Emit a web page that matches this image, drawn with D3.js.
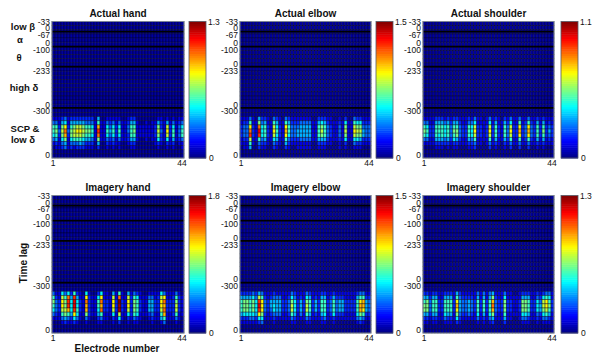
<!DOCTYPE html>
<html>
<head>
<meta charset="utf-8">
<script src="https://d3js.org/d3.v7.min.js"></script>
<style>
  html,body{margin:0;padding:0;background:#fff;}
  svg{display:block;}
  text{font-family:"Liberation Sans",Arial,sans-serif;fill:#111;}
  .domain{display:none;}
</style>
</head>
<body>
<div id="chart"></div>
<script>
var titles=["Actual hand","Actual elbow","Actual shoulder","Imagery hand","Imagery elbow","Imagery shoulder"];
var maxValues=[1.3,1.5,1.1,1.8,1.5,1.3];
var lagLabels=["-33","0","-67","0","-100","0","-233","0","-300","0"];
var lagRows=[0.12,1.63,3.1,5.2,6.8,10.1,11.8,20.1,21.6,32.2];
var bandEdges=[2.45,6.05,10.9,20.9];
var electrodeLabels=["1","44"];
var bandNames=["low \u03b2","\u03b1","\u03b8","high \u03b4","SCP &","low \u03b4"];

// levels 0-f per electrode, for the 8 active rows of the SCP band
var actualHand=[
"1112312222 2222040011 1110012200 0000011010 1011",
"3314514444 4333161132 3131124410 0101142141 3123",
"6627926788 76651a1153 5251136611 1111272182 5135",
"6738b37899 87761c1164 6261136711 1111283192 6136",
"5627a27888 76651b1153 5251126611 1111272182 6136",
"3415715666 5443171132 3131124410 0101152151 4123",
"1213413334 3222040021 2110012200 0000121021 2011",
"0112312122 2111020010 1010001100 0000010010 1001"];
var actualElbow=[
"1113104221 0321032111 1111002221 1001020032 2111",
"1226117341 1641164222 3333114542 1112151165 5222",
"233921b562 1852196333 4444116763 2113171187 7333",
"233b21d562 19621a6334 4444116863 2113181198 8433",
"233c21c562 1852195334 4444116763 2113171187 7433",
"1228116341 1541163222 3333114442 1112151155 4222",
"1116103221 0321042111 1111002221 1001020032 2111",
"0114002110 0210021001 1111001110 0001010011 1000"];
var actualShoulder=[
"1111222121 2211121311 0131210213 1131131121 2111",
"3311444342 4421133511 1151411425 1161262141 4121",
"6522666563 6632265822 1282621638 2292393262 6232",
"7622666563 7732265922 1292621639 22a23a3262 7242",
"6522656563 6732265822 1282621638 2292393262 6232",
"3311444342 5421143611 1161411426 1161262141 4121",
"1111222221 2211122311 0131210213 1131131121 2111",
"0000111010 1100011200 0020100102 0020020010 1000"];
var imageryHand=[
"3115352621 0510025110 4161041321 0011115311 1310",
"62186b4c41 1921159111 81b1182651 1133128911 2621",
"73297c5d52 1b2116b221 92f2192762 1144229b22 2721",
"63297c5d52 1a2116a221 92e2192762 1144229a22 2821",
"53288a5c62 1a2115b221 82e2182762 1144228b22 2821",
"3216764951 1721146111 5181152651 1123116a11 2611",
"1113432531 0310023110 2151021321 0012114611 1310",
"0001211210 0100011000 1020010110 0001001300 0100"];
var imageryElbow=[
"2222324311 1211111321 1132111221 1211111112 3311",
"4444538621 2333112531 2154121441 2422211114 6622",
"677675c932 4444223752 4276242662 3634422226 9a43",
"677675d932 4544223852 4286242662 3634422226 aa43",
"677675c932 3544223852 4286242662 3634422226 a943",
"4555549721 2333112641 3164121451 2522211115 7622",
"2223325511 1211111321 1132111231 1211111113 4311",
"1111112300 0100000110 0011000110 0100000001 2100"];
var imageryShoulder=[
"2212211222 1421111131 3134111311 0012221121 2331",
"4424411444 1632222141 4147211511 1114441132 5651",
"6736622666 2943343262 626a322722 1127762253 8962",
"7736622666 2a43343262 626b322722 1127762254 8972",
"7736622666 2943343262 626a322722 1127762254 7862",
"4424411544 1732232151 4157211611 1115541132 5641",
"2212211322 1521111131 2134111411 0013321121 3321",
"1101100111 0210000010 1012000200 0001110010 1110"];
var panelRows=[actualHand,actualElbow,actualShoulder,imageryHand,imageryElbow,imageryShoulder];

var width=593,height=357;
var nCols=44,nRows=33,firstActiveRow=23;
var panelLeft=[52,240,423],panelRight=[184,371,554];
var barLeft=[189,376,561],barWidth=17;
var panelTop=[21.5,195.5],panelBottom=[158,333];

var svg=d3.select("#chart").append("svg").attr("width",width).attr("height",height);

// the source picture is soft, so the maps get a very small blur
svg.append("defs").append("filter").attr("id","soft")
  .append("feGaussianBlur").attr("stdDeviation",0.4);

function jet(max){
  return d3.scaleLinear()
    .domain([0,0.125,0.375,0.625,0.875,1].map(function(d){return d*max;}))
    .range(["#000080","#0000ff","#00ffff","#ffff00","#ff0000","#800000"])
    .clamp(true);
}

function drawPanel(p){
  var col=p%3,row=Math.floor(p/3);
  var max=maxValues[p];
  var color=jet(max);
  var top=panelTop[row],bottom=panelBottom[row];
  var x=d3.scaleLinear().domain([0,nCols]).range([panelLeft[col],panelRight[col]]);
  var y=d3.scaleLinear().domain([0,nRows]).range([top,bottom]);
  var levels=panelRows[p].map(function(s){return s.replace(/ /g,"");});

  var cells=[];
  for(var r=0;r<nRows;r++){
    for(var c=0;c<nCols;c++){
      var s=levels[r-firstActiveRow];
      var lv=s?parseInt(s[c],16):0;
      cells.push({r:r,c:c,v:(0.03+lv/15)*max});
    }
  }
  var g=svg.append("g").attr("filter","url(#soft)");
  g.selectAll("rect").data(cells).enter().append("rect")
    .attr("x",function(d){return x(d.c);})
    .attr("y",function(d){return y(d.r);})
    .attr("width",x(1)-x(0))
    .attr("height",y(1)-y(0))
    .attr("fill",function(d){return color(d.v);})
    .attr("stroke","#000020")
    .attr("stroke-opacity",0.6)
    .attr("stroke-width",0.7);

  g.selectAll("line.edge").data(bandEdges).enter().append("line")
    .attr("class","edge")
    .attr("x1",x(0)).attr("x2",x(nCols))
    .attr("y1",function(d){return y(d);})
    .attr("y2",function(d){return y(d);})
    .attr("stroke","#000").attr("stroke-width",1.8);

  g.append("rect")
    .attr("x",x(0)).attr("y",top)
    .attr("width",x(nCols)-x(0)).attr("height",bottom-top)
    .attr("fill","none").attr("stroke","#7c8494").attr("stroke-width",1);

  var yAxis=d3.axisLeft(y)
    .tickValues(lagRows)
    .tickSize(0)
    .tickPadding(2)
    .tickFormat(function(d,i){return lagLabels[i];});
  svg.append("g")
    .attr("transform","translate("+x(0)+",0)")
    .call(yAxis)
    .selectAll("text")
    .attr("font-size",8.5)
    .attr("font-family","Liberation Sans");

  svg.append("text").attr("x",x(0)+1).attr("y",bottom+8)
    .attr("text-anchor","middle").attr("font-size",8.5).text(electrodeLabels[0]);
  svg.append("text").attr("x",x(nCols)-2).attr("y",bottom+8)
    .attr("text-anchor","middle").attr("font-size",8.5).text(electrodeLabels[1]);

  svg.append("text").attr("x",(x(0)+x(nCols))/2).attr("y",top-5)
    .attr("text-anchor","middle").attr("font-size",10).attr("font-weight","bold")
    .text(titles[p]);

  // colour bar
  var barY=d3.scaleLinear().domain([0,max]).range([bottom,top]);
  var steps=d3.range(64);
  svg.append("g").selectAll("rect").data(steps).enter().append("rect")
    .attr("x",barLeft[col])
    .attr("y",function(d){return barY((d+1)/64*max);})
    .attr("width",barWidth)
    .attr("height",(bottom-top)/64+0.5)
    .attr("fill",function(d){return color((d+0.5)/64*max);});
  svg.append("rect")
    .attr("x",barLeft[col]).attr("y",top)
    .attr("width",barWidth).attr("height",bottom-top)
    .attr("fill","none").attr("stroke","#555a66").attr("stroke-width",0.8);
  svg.append("text").attr("x",barLeft[col]+barWidth+2).attr("y",top+3)
    .attr("font-size",8.5).text(max);
  svg.append("text").attr("x",barLeft[col]+barWidth+3).attr("y",bottom+3)
    .attr("font-size",8.5).text("0");
}

d3.range(titles.length).forEach(drawPanel);

var bandNameX=[23,20,19,24,25,23],bandNameY=[29.5,42.5,60.5,90.5,131.5,142.5];
svg.selectAll("text.band").data(bandNames).enter().append("text")
  .attr("class","band")
  .attr("x",function(d,i){return bandNameX[i];})
  .attr("y",function(d,i){return bandNameY[i];})
  .attr("text-anchor","middle").attr("font-size",9.5).attr("font-weight","bold")
  .text(function(d){return d;});

svg.append("text")
  .attr("transform","translate(27,263) rotate(-90)")
  .attr("text-anchor","middle").attr("font-size",10).attr("font-weight","bold")
  .text("Time lag");
svg.append("text")
  .attr("x",117).attr("y",351.5)
  .attr("text-anchor","middle").attr("font-size",10).attr("font-weight","bold")
  .text("Electrode number");
</script>
</body>
</html>
